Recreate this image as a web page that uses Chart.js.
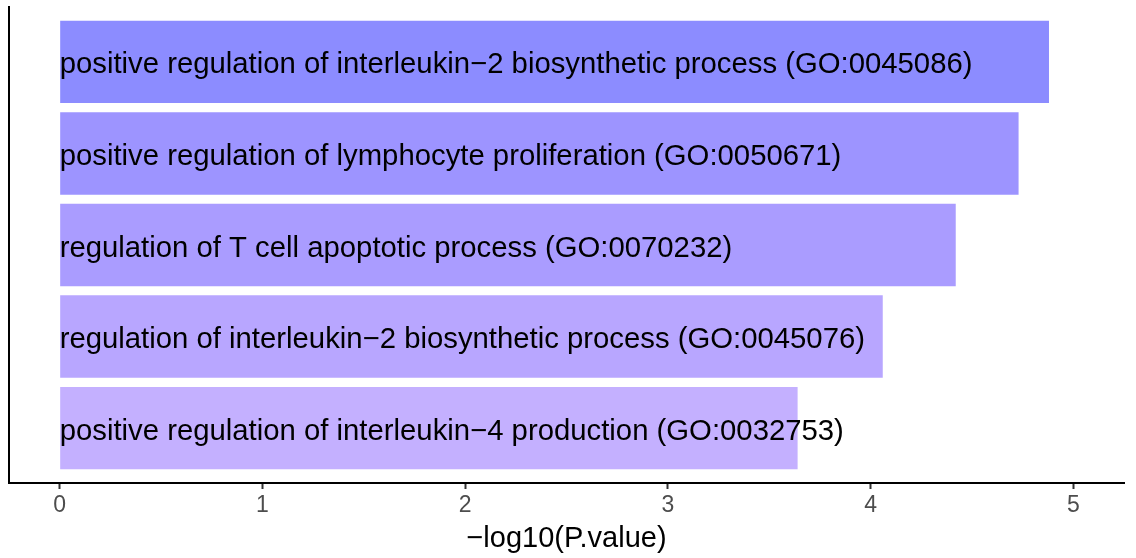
<!DOCTYPE html>
<html>
<head>
<meta charset="utf-8">
<script src="https://cdn.jsdelivr.net/npm/chart.js@4/dist/chart.umd.min.js"></script>
<style>
  html, body { margin: 0; padding: 0; background: #fff; }
  #wrap { width: 1136px; height: 558px; }
</style>
</head>
<body>
<div id="wrap"><canvas id="goChart" width="1136" height="558"></canvas></div>
<script>
// GO terms, top to bottom
var terms = [
    'positive regulation of interleukin\u22122 biosynthetic process (GO:0045086)',
    'positive regulation of lymphocyte proliferation (GO:0050671)',
    'regulation of T cell apoptotic process (GO:0070232)',
    'regulation of interleukin\u22122 biosynthetic process (GO:0045076)',
    'positive regulation of interleukin\u22124 production (GO:0032753)'
];
var rank = [1, 2, 3, 4, 5];
var logP = [4.88, 4.73, 4.42, 4.06, 3.64]; // -log10(P.value)
var barColors = ['#8c8cff', '#9d94ff', '#aa9cff', '#b8a6ff', '#c4b0ff'];
var xTicks = [0, 1, 2, 3, 4, 5];

var FONT = '"Liberation Sans", Arial, sans-serif';

// write the term names inside the bars, starting at x = 0
var termLabels = {
    id: 'termLabels',
    afterDatasetsDraw: function(chart) {
        var c = chart.ctx;
        var xs = chart.scales.x, ys = chart.scales.y;
        c.save();
        c.font = '29.3px ' + FONT;
        c.fillStyle = '#000';
        c.textAlign = 'left';
        c.textBaseline = 'alphabetic';
        terms.forEach(function(t, i) {
            c.fillText(t, xs.getPixelForValue(0), ys.getPixelForValue(rank[i]) + 11.5);
        });
        c.restore();
    }
};

var ctx = document.getElementById('goChart').getContext('2d');
var chart = new Chart(ctx, {
    type: 'bar',
    data: {
        datasets: [{
            data: logP.map(function(v, i) { return { x: v, y: rank[i] }; }),
            backgroundColor: barColors,
            borderWidth: 0,
            barPercentage: 0.9,
            categoryPercentage: 1.0
        }]
    },
    options: {
        indexAxis: 'y',
        responsive: false,
        animation: false,
        layout: { padding: { left: 0, right: 12, top: 7, bottom: 0 } },
        plugins: { legend: { display: false }, tooltip: { enabled: false } },
        scales: {
            x: {
                type: 'linear',
                min: -0.25,
                max: 5.25,
                afterBuildTicks: function(s) { s.ticks = xTicks.map(function(v) { return { value: v }; }); },
                afterFit: function(s) { s.height = 75; },
                grid: { drawOnChartArea: false, drawTicks: true, tickLength: 6, tickWidth: 2, color: '#333' },
                border: { display: true, color: '#000', width: 2 },
                ticks: { color: '#4d4d4d', padding: 3, font: { size: 23, family: FONT } },
                title: {
                    display: true,
                    text: '\u2212log10(P.value)',
                    color: '#000',
                    padding: { top: 0, bottom: 2 },
                    font: { size: 29, family: FONT }
                }
            },
            y: {
                type: 'linear',
                reverse: true,
                offset: false,
                min: 0.4,
                max: 5.6,
                afterBuildTicks: function(s) { s.ticks = rank.map(function(v) { return { value: v }; }); },
                afterFit: function(s) { s.width = 9; },
                grid: { display: false },
                border: { display: true, color: '#000', width: 2 },
                ticks: { display: false }
            }
        }
    },
    plugins: [termLabels]
});
</script>
</body>
</html>
